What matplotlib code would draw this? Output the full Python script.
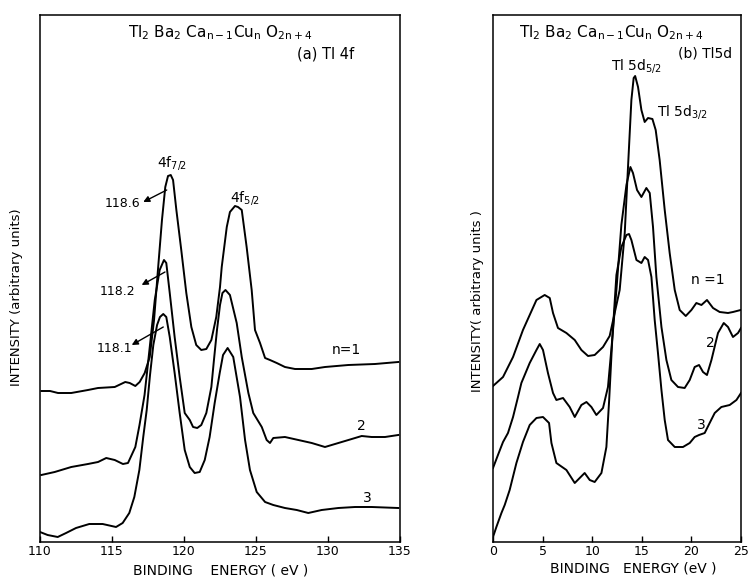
import numpy as np
import matplotlib
matplotlib.use('Agg')
import matplotlib.pyplot as plt

plt.rcParams['font.family'] = 'DejaVu Sans'
plt.rcParams['mathtext.default'] = 'regular'

# (a) Tl 4f spectra, binding energy (eV) vs intensity (arb. units)
e4f_n1 = [110.1, 110.7, 111.25, 112.17, 113.33, 114.03, 115.19, 115.92, 116.23, 116.62,
          116.92, 117.27, 117.62, 117.92, 118.19, 118.47, 118.70, 118.89, 119.08, 119.24,
          119.47, 119.81, 120.16, 120.51, 120.85, 121.20, 121.55, 121.90, 122.24, 122.50,
          122.62, 122.97, 123.19, 123.54, 123.75, 124.01, 124.35, 124.70, 124.93, 125.28,
          125.63, 125.97, 126.44, 127.01, 127.71, 128.87, 129.79, 131.41, 133.26, 134.88]
i4f_n1 = [151, 151, 149, 149, 152, 154, 155, 160, 159, 156,
          160, 169, 185, 222, 272, 322, 355, 366, 367, 362,
          332, 292, 249, 215, 197, 192, 193, 202, 225, 255,
          275, 315, 330, 336, 335, 332, 295, 252, 212, 199,
          184, 182, 179, 175, 173, 173, 175, 177, 178, 180]

e4f_n2 = [110.09, 111.02, 112.17, 113.33, 114.03, 114.60, 115.19, 115.76, 116.11, 116.62,
          116.91, 117.26, 117.60, 117.97, 118.31, 118.61, 118.77, 119.01, 119.35, 119.70,
          120.05, 120.40, 120.63, 120.92, 121.20, 121.55, 121.90, 122.08, 122.29, 122.50,
          122.67, 122.88, 123.19, 123.66, 124.01, 124.47, 124.81, 125.40, 125.74, 125.97,
          126.20, 127.01, 127.94, 128.87, 129.79, 130.72, 131.65, 132.34, 133.03, 133.96, 134.88]
i4f_n2 = [67, 70, 75, 78, 80, 84, 82, 78, 79, 95,
          117, 147, 192, 242, 272, 282, 279, 249, 205, 165,
          129, 122, 115, 114, 117, 129, 155, 182, 212, 237,
          249, 252, 247, 219, 185, 149, 129, 115, 102, 99,
          104, 105, 102, 99, 95, 99, 103, 106, 105, 105, 107]

e4f_n3 = [110.0, 110.53, 111.23, 111.81, 112.50, 113.42, 114.35, 115.28, 115.74, 116.20,
          116.55, 116.90, 117.17, 117.41, 117.64, 117.87, 118.13, 118.33, 118.56, 118.77,
          119.01, 119.35, 119.70, 120.05, 120.40, 120.74, 121.09, 121.44, 121.78, 122.13,
          122.48, 122.71, 123.03, 123.42, 123.89, 124.24, 124.58, 125.05, 125.63, 126.20,
          127.01, 127.83, 128.63, 129.56, 130.72, 131.88, 133.03, 134.88]
i4f_n3 = [10, 7, 5, 9, 14, 18, 18, 15, 19, 29,
          45, 72, 105, 132, 167, 197, 217, 225, 228, 225,
          205, 169, 129, 92, 75, 69, 70, 82, 105, 139,
          169, 187, 194, 185, 145, 102, 72, 50, 40, 37,
          34, 32, 29, 32, 34, 35, 35, 34]

# (b) Tl 5d spectra
e5d_n1 = [0.0, 1.01, 2.02, 3.02, 3.70, 4.38, 5.21, 5.72, 6.05, 6.55,
          7.40, 8.24, 8.91, 9.58, 10.25, 11.09, 11.76, 12.77, 13.28, 13.61,
          13.95, 14.18, 14.33, 14.62, 14.96, 15.29, 15.63, 16.07, 16.40, 16.80,
          17.31, 17.81, 18.32, 18.82, 19.43, 20.0, 20.50, 21.01, 21.57, 22.18,
          22.85, 23.69, 24.19, 24.97]
i5d_n1 = [156, 165, 185, 212, 227, 242, 247, 244, 229, 214,
          209, 202, 192, 186, 187, 195, 206, 252, 309, 375,
          442, 464, 466, 455, 432, 420, 424, 423, 412, 382,
          332, 289, 252, 232, 226, 232, 239, 237, 242, 234,
          230, 229, 230, 232]

e5d_n2 = [0.0, 0.50, 1.01, 1.51, 2.02, 2.52, 2.86, 3.70, 4.38, 4.71,
          5.04, 5.54, 6.05, 6.39, 7.06, 7.73, 8.24, 8.91, 9.42, 9.92,
          10.42, 11.09, 11.59, 11.97, 12.44, 12.94, 13.45, 13.85, 14.11, 14.52,
          14.96, 15.46, 15.80, 16.13, 16.47, 16.98, 17.48, 17.98, 18.65, 19.32,
          19.83, 20.33, 20.77, 21.17, 21.57, 22.02, 22.68, 23.26, 23.69, 24.19,
          24.70, 25.0]
i5d_n2 = [74, 87, 100, 109, 125, 145, 159, 179, 192, 198,
          192, 169, 149, 142, 144, 135, 125, 137, 140, 135,
          127, 134, 155, 197, 252, 317, 357, 375, 369, 352,
          345, 354, 349, 315, 265, 215, 182, 162, 155, 154,
          162, 175, 177, 170, 167, 182, 209, 219, 215, 205,
          209, 214]

e5d_n3 = [0.0, 0.34, 0.85, 1.18, 1.68, 2.36, 3.02, 3.70, 4.38, 5.04,
          5.65, 5.89, 6.39, 7.40, 8.24, 8.74, 9.24, 9.75, 10.25, 10.93,
          11.43, 11.71, 12.02, 12.44, 12.94, 13.45, 13.71, 13.95, 14.46, 14.96,
          15.29, 15.63, 15.97, 16.30, 16.63, 16.98, 17.31, 17.64, 18.32, 19.15,
          19.83, 20.33, 20.77, 21.34, 21.84, 22.35, 23.02, 23.86, 24.54, 25.0]
i5d_n3 = [5, 15, 29, 37, 52, 79, 100, 117, 124, 125,
          119, 99, 79, 72, 59, 64, 69, 62, 60, 69,
          95, 142, 202, 267, 295, 307, 308, 302, 282, 279,
          285, 282, 265, 222, 189, 152, 122, 102, 95, 95,
          99, 105, 107, 109, 119, 129, 135, 137, 142, 149]

ticks_a = [110, 115, 120, 125, 130, 135]
ticks_b = [0, 5, 10, 15, 20, 25]

fig = plt.figure(figsize=(7.49, 5.79), dpi=100)
ax1 = fig.add_axes([40/749, 37/579, 360/749, 527/579])
ax2 = fig.add_axes([493/749, 37/579, 248/749, 527/579])

lw = 1.4
for e, i in [(e4f_n1, i4f_n1), (e4f_n2, i4f_n2), (e4f_n3, i4f_n3)]:
    ax1.plot(e, i, color='black', lw=lw)
for e, i in [(e5d_n1, i5d_n1), (e5d_n2, i5d_n2), (e5d_n3, i5d_n3)]:
    ax2.plot(e, i, color='black', lw=lw)

ax1.set_xlim(110, 135)
ax2.set_xlim(0, 25)
for ax, tk in [(ax1, ticks_a), (ax2, ticks_b)]:
    ax.set_ylim(0, 527)
    ax.set_xticks(tk)
    ax.set_yticks([])
    ax.tick_params(axis='x', direction='in', length=4, width=1, pad=2, labelsize=9)
    for s in ax.spines.values():
        s.set_linewidth(1.1)

formula = r'Tl$_2$ Ba$_2$ Ca$_{n-1}$Cu$_n$ O$_{2n+4}$'

# panel (a) text
ax1.text(0.5, 0.958, formula, transform=ax1.transAxes, ha='center', va='baseline', fontsize=11)
ax1.text(0.792, 0.918, '(a) Tl 4f', transform=ax1.transAxes, ha='center', va='baseline', fontsize=10.5)
ax1.text(0.367, 0.712, r'4f$_{7/2}$', transform=ax1.transAxes, ha='center', va='baseline', fontsize=10)
ax1.text(0.569, 0.645, r'4f$_{5/2}$', transform=ax1.transAxes, ha='center', va='baseline', fontsize=10)
ax1.text(0.228, 0.643, '118.6', transform=ax1.transAxes, ha='center', va='center', fontsize=9)
ax1.text(0.215, 0.476, '118.2', transform=ax1.transAxes, ha='center', va='center', fontsize=9)
ax1.text(0.208, 0.368, '118.1', transform=ax1.transAxes, ha='center', va='center', fontsize=9)
arr = dict(arrowstyle='-|>', color='black', lw=1.0, mutation_scale=9, shrinkA=0, shrinkB=0)
ax1.annotate('', xy=(117.17, 340), xytext=(118.80, 352), arrowprops=arr)
ax1.annotate('', xy=(117.06, 257), xytext=(118.68, 270), arrowprops=arr)
ax1.annotate('', xy=(116.37, 197), xytext=(118.56, 215), arrowprops=arr)
ax1.text(0.85, 0.364, 'n=1', transform=ax1.transAxes, ha='center', va='center', fontsize=10)
ax1.text(0.894, 0.220, '2', transform=ax1.transAxes, ha='center', va='center', fontsize=10)
ax1.text(0.908, 0.083, '3', transform=ax1.transAxes, ha='center', va='center', fontsize=10)

# panel (b) text
ax2.text(0.475, 0.958, formula, transform=ax2.transAxes, ha='center', va='baseline', fontsize=11)
ax2.text(0.857, 0.920, '(b) Tl5d', transform=ax2.transAxes, ha='center', va='baseline', fontsize=10)
ax2.text(0.580, 0.896, r'Tl 5d$_{5/2}$', transform=ax2.transAxes, ha='center', va='baseline', fontsize=10)
ax2.text(0.764, 0.810, r'Tl 5d$_{3/2}$', transform=ax2.transAxes, ha='center', va='baseline', fontsize=10)
ax2.text(0.865, 0.497, 'n =1', transform=ax2.transAxes, ha='center', va='center', fontsize=10)
ax2.text(0.875, 0.378, '2', transform=ax2.transAxes, ha='center', va='center', fontsize=10)
ax2.text(0.841, 0.222, '3', transform=ax2.transAxes, ha='center', va='center', fontsize=10)

# axis labels
fig.text(17/749, 1 - 297/579, 'INTENSITY (arbitrary units)', rotation=90,
         ha='center', va='center', fontsize=9.5)
fig.text(477/749, 1 - 301/579, 'INTENSITY( arbitrary units )', rotation=90,
         ha='center', va='center', fontsize=9.5)
fig.text(221/749, 1 - 570/579, 'BINDING    ENERGY ( eV )', ha='center', va='center', fontsize=10)
fig.text(633/749, 1 - 568/579, 'BINDING   ENERGY (eV )', ha='center', va='center', fontsize=10)

fig.savefig('out.png', dpi=100)
